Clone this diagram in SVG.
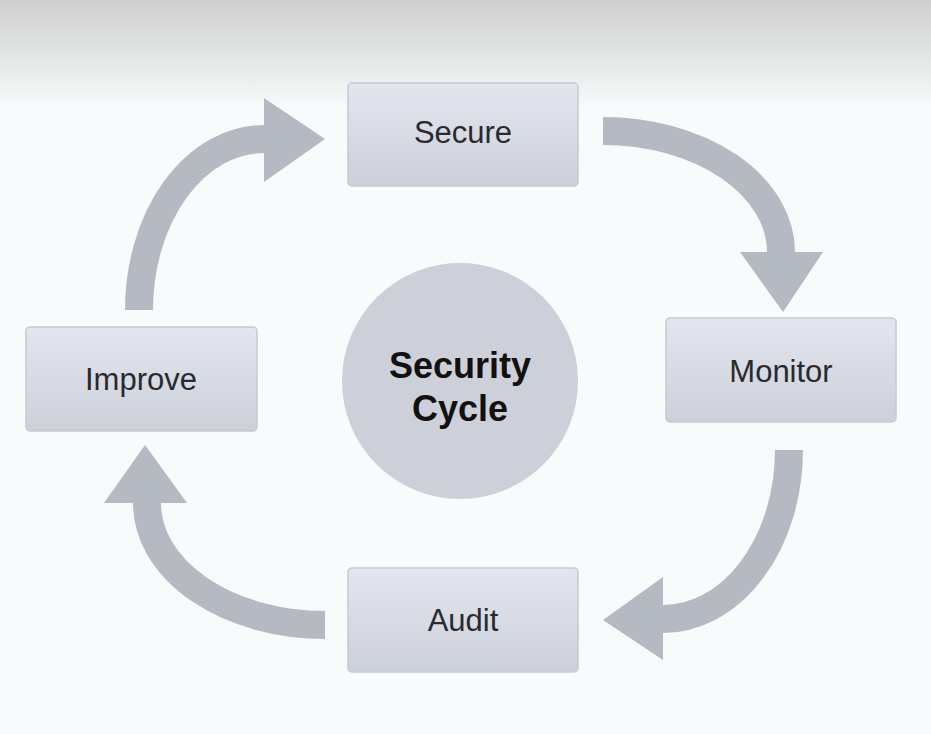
<svg xmlns="http://www.w3.org/2000/svg" width="931" height="734" viewBox="0 0 931 734">
<defs>
<linearGradient id="bg" x1="0" y1="0" x2="0" y2="1">
<stop offset="0" stop-color="#cfcfcf"/>
<stop offset="1" stop-color="#f6f9f9"/>
</linearGradient>
<linearGradient id="box" x1="0" y1="0" x2="0" y2="1">
<stop offset="0" stop-color="#e3e6ee"/>
<stop offset="1" stop-color="#ccd0d9"/>
</linearGradient>
<style>
.box{fill:url(#box);stroke:#c6cad2;stroke-width:1.5}
.lbl{font-family:"Liberation Sans",Arial,sans-serif;font-size:31px;fill:#2a2a2e;text-anchor:middle}
.arc{fill:none;stroke:#b4b9c2;stroke-width:28}
.head{fill:#b4b9c2}
.ctr{font-family:"Liberation Sans",Arial,sans-serif;font-weight:bold;font-size:36px;fill:#111;text-anchor:middle}
</style>
</defs>
<rect width="931" height="734" fill="#f7fbfb"/>
<rect width="931" height="105" fill="url(#bg)"/>
<g id="connectors">
<path class="arc" d="M603,131 A178,121 0 0 1 781,252"/>
<polygon class="head" points="740,252 823,252 783,312"/>
<path class="arc" d="M789,450 A126,169 0 0 1 663,619"/>
<polygon class="head" points="663,577 663,660 603,620"/>
<path class="arc" d="M325,625 A178,122 0 0 1 147,503"/>
<polygon class="head" points="104,503 187,503 145,445"/>
<path class="arc" d="M139,310 A125,171 0 0 1 264,139"/>
<polygon class="head" points="264,98 264,182 325,139"/>
</g>
<g id="center">
<circle cx="460" cy="381" r="118" fill="#cdd0d8"/>
<text class="ctr" x="460" y="378">Security</text>
<text class="ctr" x="460" y="421">Cycle</text>
</g>
<g id="secure">
<rect class="box" x="348" y="83" width="230" height="103" rx="4"/>
<text class="lbl" x="463" y="143">Secure</text>
</g>
<g id="monitor">
<rect class="box" x="666" y="318" width="230" height="104" rx="4"/>
<text class="lbl" x="781" y="382">Monitor</text>
</g>
<g id="audit">
<rect class="box" x="348" y="568" width="230" height="104" rx="4"/>
<text class="lbl" x="463" y="631">Audit</text>
</g>
<g id="improve">
<rect class="box" x="26" y="327" width="231" height="104" rx="4"/>
<text class="lbl" x="141" y="390">Improve</text>
</g>
</svg>
